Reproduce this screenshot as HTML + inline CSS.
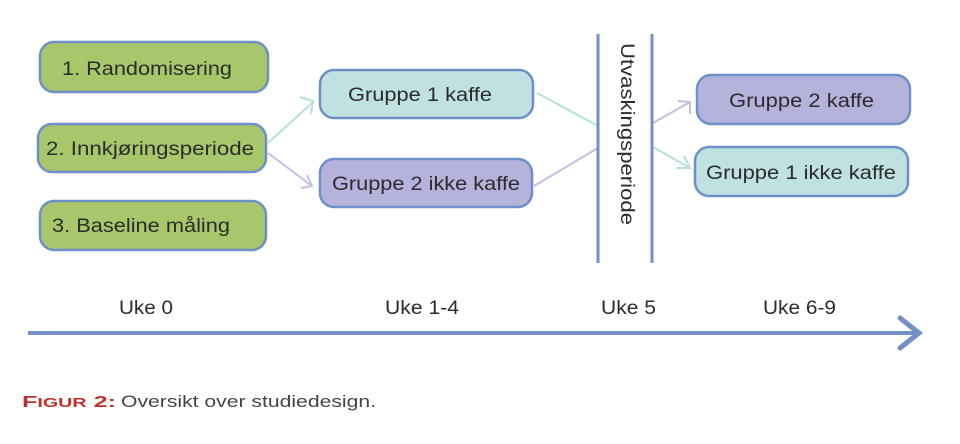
<!DOCTYPE html>
<html><head><meta charset="utf-8"><style>
html,body{margin:0;padding:0;background:#fff;}
svg{display:block;}
text{font-family:"Liberation Sans",sans-serif;fill:#2b2b2b;}
</style></head><body>
<svg width="960" height="444" viewBox="0 0 960 444" xmlns="http://www.w3.org/2000/svg">
<g stroke="#6e8fc7" stroke-width="2.5">
<rect x="40" y="42" width="228" height="50" rx="14" fill="#a8c76a"/>
<rect x="38" y="124" width="228" height="48" rx="14" fill="#a8c76a"/>
<rect x="40" y="201" width="226" height="49" rx="14" fill="#a8c76a"/>
<rect x="320" y="70" width="213" height="48" rx="14" fill="#bfe1e2"/>
<rect x="320" y="159" width="212" height="48" rx="14" fill="#b5b2dc"/>
<rect x="697" y="75" width="213" height="49" rx="14" fill="#b5b2dc"/>
<rect x="695" y="147" width="213" height="49" rx="14" fill="#bfe1e2"/>
</g>
<g stroke-width="2" fill="none">
<path d="M268 143 L313 102" stroke="#b6e0e0"/>
<path d="M300 97 L313 101 L311 114" stroke="#b6e0e0"/>
<path d="M268 153 L312 186" stroke="#c3bfe3"/>
<path d="M301 188 L312 186 L307 175" stroke="#c3bfe3"/>
<path d="M537 93 L598 126" stroke="#b6e0e0"/>
<path d="M534 186 L598 148" stroke="#c3bfe3"/>
<path d="M653 123 L690 102" stroke="#c3bfe3"/>
<path d="M678 101 L690 102 L690 114" stroke="#c3bfe3"/>
<path d="M653 147 L690 168" stroke="#b6e0e0"/>
<path d="M676 168 L690 168 L684 156" stroke="#b6e0e0"/>
</g>
<g stroke="#7391c6" stroke-width="3">
<line x1="598" y1="34" x2="598" y2="263"/>
<line x1="652" y1="34" x2="652" y2="263"/>
</g>
<line x1="28" y1="333" x2="918" y2="333" stroke="#7391c6" stroke-width="4"/>
<path d="M900 318 L919 333 L900 348" stroke="#7391c6" stroke-width="5" fill="none" stroke-linecap="round"/>
<g font-size="19">
<text x="62" y="75" textLength="170" lengthAdjust="spacingAndGlyphs">1. Randomisering</text>
<text x="46" y="155" textLength="208" lengthAdjust="spacingAndGlyphs">2. Innkjøringsperiode</text>
<text x="52" y="232" textLength="178" lengthAdjust="spacingAndGlyphs">3. Baseline måling</text>
<text x="348" y="101" textLength="144" lengthAdjust="spacingAndGlyphs">Gruppe 1 kaffe</text>
<text x="332" y="190" textLength="188" lengthAdjust="spacingAndGlyphs">Gruppe 2 ikke kaffe</text>
<text x="729" y="107" textLength="145" lengthAdjust="spacingAndGlyphs">Gruppe 2 kaffe</text>
<text x="706" y="179" textLength="190" lengthAdjust="spacingAndGlyphs">Gruppe 1 ikke kaffe</text>
<text transform="translate(621,43) rotate(90)" x="0" y="0" textLength="182" lengthAdjust="spacingAndGlyphs">Utvaskingsperiode</text>
<text x="119" y="314" textLength="54" lengthAdjust="spacingAndGlyphs">Uke 0</text>
<text x="385" y="314" textLength="74" lengthAdjust="spacingAndGlyphs">Uke 1-4</text>
<text x="601" y="314" textLength="55" lengthAdjust="spacingAndGlyphs">Uke 5</text>
<text x="763" y="314" textLength="73" lengthAdjust="spacingAndGlyphs">Uke 6-9</text>
</g>
<text x="22" y="407" font-family="Liberation Serif,serif" font-weight="bold" style="fill:#c0302a" font-size="16" textLength="94" lengthAdjust="spacingAndGlyphs">F<tspan font-size="12.5">IGUR</tspan> 2:</text>
<text x="121" y="407" font-size="17" style="fill:#444" textLength="255" lengthAdjust="spacingAndGlyphs">Oversikt over studiedesign.</text>
</svg>
</body></html>
